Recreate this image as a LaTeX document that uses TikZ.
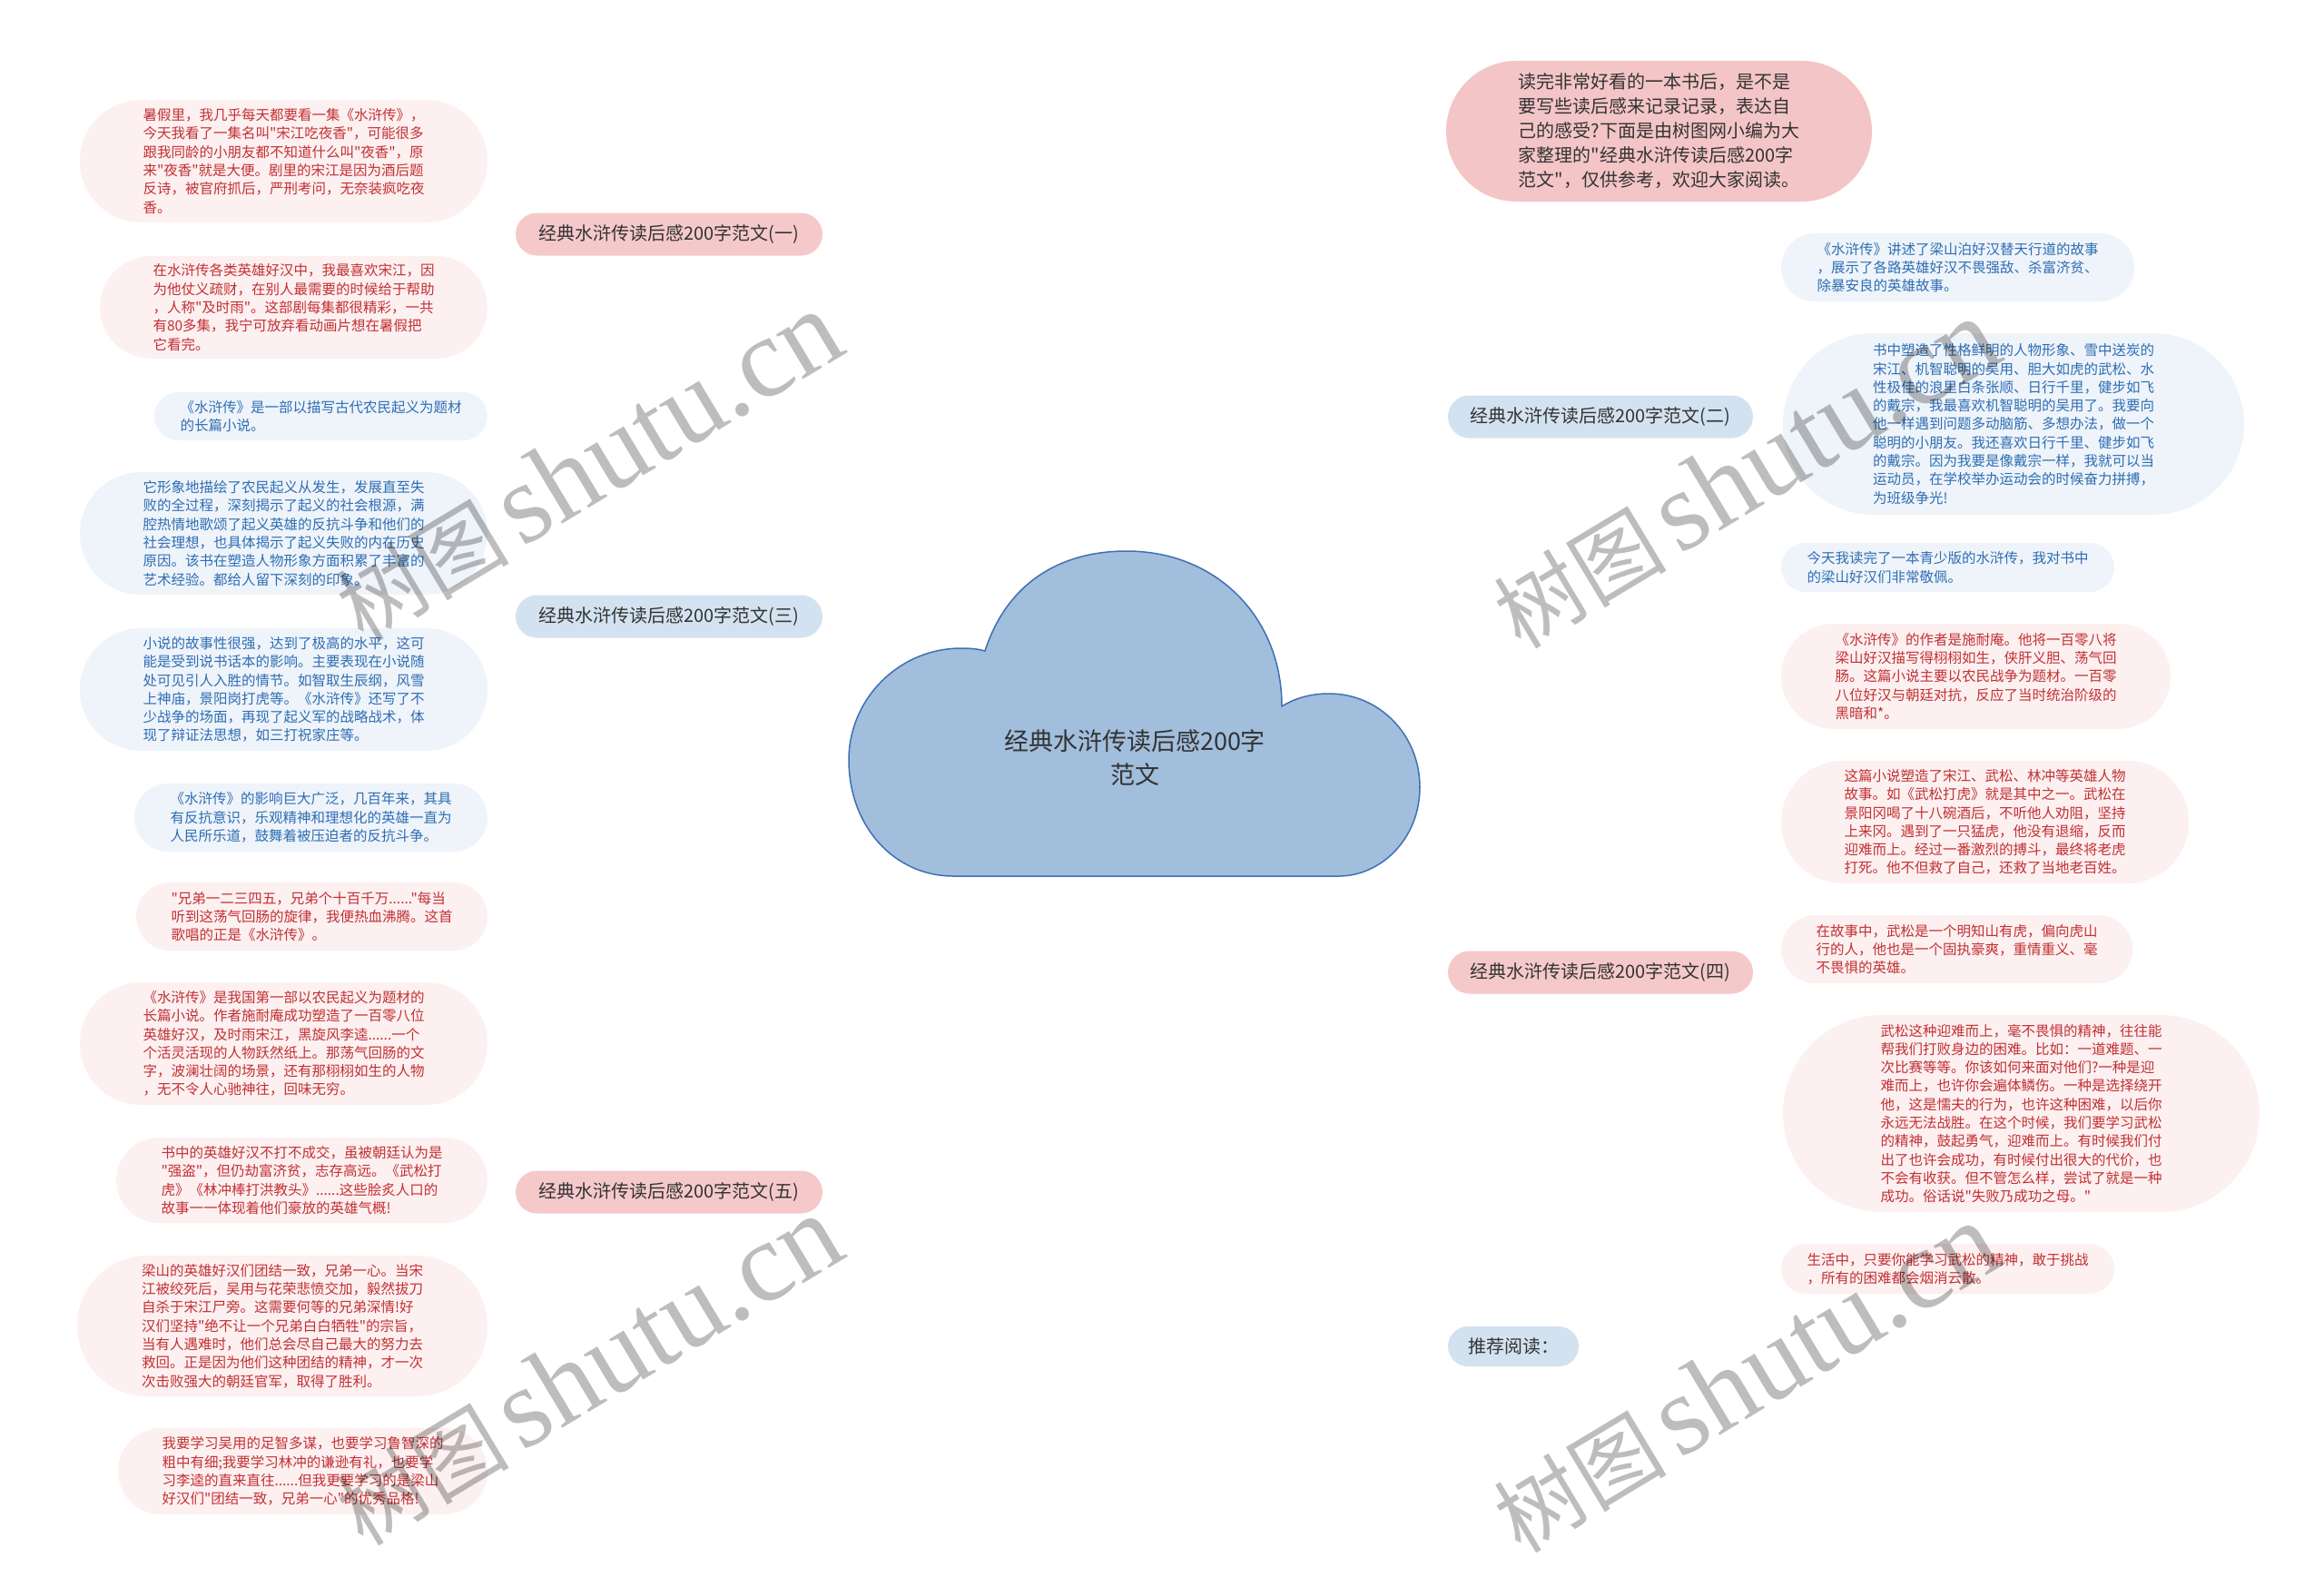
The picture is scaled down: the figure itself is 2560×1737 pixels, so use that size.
\documentclass[tikz,border=0pt]{standalone}
\usepackage{fontspec}
\newfontfamily\zh{Noto Sans CJK SC}
\newfontfamily\wmlat{Liberation Serif}
\usetikzlibrary{shapes.misc}
\definecolor{pinkfill}{HTML}{FDF0F0}
\definecolor{pinktext}{HTML}{C23034}
\definecolor{bluefill}{HTML}{EEF4FA}
\definecolor{bluetext}{HTML}{2F6DB3}
\definecolor{pinkbr}{HTML}{F5C9CA}
\definecolor{introfill}{HTML}{F4C5C6}
\definecolor{bluebr}{HTML}{D3E2F0}
\definecolor{pinkline}{HTML}{EBB9BB}
\definecolor{blueline}{HTML}{BDD1E6}
\definecolor{cloudfill}{HTML}{A1BEDC}
\definecolor{cloudline}{HTML}{3F6FB5}
\definecolor{darktext}{HTML}{333333}
\pgfdeclarelayer{bg}
\pgfsetlayers{bg,main}
\begin{document}
\begin{tikzpicture}[x=1pt,y=-1pt,
  leaf/.style={rounded rectangle, align=left, inner sep=0pt, font=\zh\fontsize{15.5}{20.3}\selectfont},
  leafp/.style={leaf, fill=pinkfill, text=pinktext},
  leafb/.style={leaf, fill=bluefill, text=bluetext},
  br/.style={rounded rectangle, inner sep=0pt, text=darktext, font=\zh\fontsize{20}{24}\selectfont, minimum height=47pt},
  brp/.style={br, fill=pinkbr},
  brb/.style={br, fill=bluebr},
  pl/.style={draw=pinkline, line width=1.8pt},
  bl/.style={draw=blueline, line width=1.8pt},
  wm/.style={text=black, opacity=0.26, rotate=31, inner sep=0pt},
]
\useasboundingbox (0,0) rectangle (2560,1737);
\fill[white] (0,0) rectangle (2560,1737);

% central cloud
\draw[fill=cloudfill, draw=cloudline, line width=1.5pt]
  (1085,717) .. controls (1110,640) and (1170,607) .. (1241,607)
  .. controls (1340,607) and (1412,680) .. (1412,778)
  .. controls (1428,768) and (1446,764) .. (1464,764)
  .. controls (1520,764) and (1564,810) .. (1564,867)
  .. controls (1564,925) and (1520,965) .. (1475,965)
  -- (1050,965)
  .. controls (985,965) and (935,910) .. (935,837)
  .. controls (935,770) and (990,714) .. (1059,714)
  .. controls (1070,714) and (1078,715) .. (1085,717) -- cycle;
\node[align=center, text=darktext, font=\zh\fontsize{27}{37}\selectfont] (center) at (1250,835) {经典水浒传读后感200字\\范文};
\coordinate (cl) at (933,787);
\coordinate (cr) at (1566,787);

% branches
\node[brp, minimum width=338pt] (b1) at (737,258) {经典水浒传读后感200字范文(一)};
\node[brb, minimum width=338pt] (b3) at (737,679) {经典水浒传读后感200字范文(三)};
\node[brp, minimum width=338pt] (b5) at (737,1313) {经典水浒传读后感200字范文(五)};
\node[rounded rectangle, fill=introfill, text=darktext, align=left, inner sep=0pt,
  font=\zh\fontsize{20}{27}\selectfont, minimum width=469pt, minimum height=155pt] (intro) at (1827.5,144.5)
  {读完非常好看的一本书后，是不是\\要写些读后感来记录记录，表达自\\己的感受?下面是由树图网小编为大\\家整理的"经典水浒传读后感200字\\范文"，仅供参考，欢迎大家阅读。};
\node[brb, minimum width=336pt] (b2) at (1763,459) {经典水浒传读后感200字范文(二)};
\node[brp, minimum width=336pt] (b4) at (1763,1071) {经典水浒传读后感200字范文(四)};
\node[brb, minimum width=144pt, minimum height=44pt] (b6) at (1667,1483) {推荐阅读：};

% left leaves (一)
\node[leafp, minimum width=449pt, minimum height=135pt] (l1a) at (312.5,177.5)
 {暑假里，我几乎每天都要看一集《水浒传》，\\今天我看了一集名叫"宋江吃夜香"，可能很多\\跟我同龄的小朋友都不知道什么叫"夜香"，原\\来"夜香"就是大便。剧里的宋江是因为酒后题\\反诗，被官府抓后，严刑考问，无奈装疯吃夜\\香。};
\node[leafp, minimum width=427pt, minimum height=113pt] (l1b) at (323.5,338.5)
 {在水浒传各类英雄好汉中，我最喜欢宋江，因\\为他仗义疏财，在别人最需要的时候给于帮助\\，人称"及时雨"。这部剧每集都很精彩，一共\\有80多集，我宁可放弃看动画片想在暑假把\\它看完。};

% left leaves (三)
\node[leafb, minimum width=367pt, minimum height=53pt] (l3a) at (353.5,458.5)
 {《水浒传》是一部以描写古代农民起义为题材\\的长篇小说。};
\node[leafb, minimum width=449pt, minimum height=135pt] (l3b) at (312.5,587.5)
 {它形象地描绘了农民起义从发生，发展直至失\\败的全过程，深刻揭示了起义的社会根源，满\\腔热情地歌颂了起义英雄的反抗斗争和他们的\\社会理想，也具体揭示了起义失败的内在历史\\原因。该书在塑造人物形象方面积累了丰富的\\艺术经验。都给人留下深刻的印象。};
\node[leafb, minimum width=449pt, minimum height=135pt] (l3c) at (312.5,759.5)
 {小说的故事性很强，达到了极高的水平，这可\\能是受到说书话本的影响。主要表现在小说随\\处可见引人入胜的情节。如智取生辰纲，风雪\\上神庙，景阳岗打虎等。《水浒传》还写了不\\少战争的场面，再现了起义军的战略战术，体\\现了辩证法思想，如三打祝家庄等。};
\node[leafb, minimum width=389pt, minimum height=75pt] (l3d) at (342.5,900.5)
 {《水浒传》的影响巨大广泛，几百年来，其具\\有反抗意识，乐观精神和理想化的英雄一直为\\人民所乐道，鼓舞着被压迫者的反抗斗争。};

% left leaves (五)
\node[leafp, minimum width=387pt, minimum height=75pt] (l5a) at (343.5,1009.5)
 {"兄弟一二三四五，兄弟个十百千万......"每当\\听到这荡气回肠的旋律，我便热血沸腾。这首\\歌唱的正是《水浒传》。};
\node[leafp, minimum width=449pt, minimum height=135pt] (l5b) at (312.5,1149.5)
 {《水浒传》是我国第一部以农民起义为题材的\\长篇小说。作者施耐庵成功塑造了一百零八位\\英雄好汉，及时雨宋江，黑旋风李逵......一个\\个活灵活现的人物跃然纸上。那荡气回肠的文\\字，波澜壮阔的场景，还有那栩栩如生的人物\\，无不令人心驰神往，回味无穷。};
\node[leafp, minimum width=409pt, minimum height=94pt] (l5c) at (332.5,1300)
 {书中的英雄好汉不打不成交，虽被朝廷认为是\\"强盗"，但仍劫富济贫，志存高远。《武松打\\虎》《林冲棒打洪教头》......这些脍炙人口的\\故事一一体现着他们豪放的英雄气概!};
\node[leafp, minimum width=452pt, minimum height=155pt] (l5d) at (311,1460.5)
 {梁山的英雄好汉们团结一致，兄弟一心。当宋\\江被绞死后，吴用与花荣悲愤交加，毅然拔刀\\自杀于宋江尸旁。这需要何等的兄弟深情!好\\汉们坚持"绝不让一个兄弟白白牺牲"的宗旨，\\当有人遇难时，他们总会尽自己最大的努力去\\救回。正是因为他们这种团结的精神，才一次\\次击败强大的朝廷官军，取得了胜利。};
\node[leafp, minimum width=407pt, minimum height=95pt] (l5e) at (333.5,1620.5)
 {我要学习吴用的足智多谋，也要学习鲁智深的\\粗中有细;我要学习林冲的谦逊有礼，也要学\\习李逵的直来直往......但我更要学习的是梁山\\好汉们"团结一致，兄弟一心"的优秀品格!};

% right leaves (二)
\node[leafb, minimum width=389pt, minimum height=75pt] (r2a) at (2156.5,294.5)
 {《水浒传》讲述了梁山泊好汉替天行道的故事\\，展示了各路英雄好汉不畏强敌、杀富济贫、\\除暴安良的英雄故事。};
\node[leafb, minimum width=508pt, minimum height=200pt] (r2b) at (2218,467)
 {书中塑造了性格鲜明的人物形象、雪中送炭的\\宋江、机智聪明的吴用、胆大如虎的武松、水\\性极佳的浪里白条张顺、日行千里，健步如飞\\的戴宗，我最喜欢机智聪明的吴用了。我要向\\他一样遇到问题多动脑筋、多想办法，做一个\\聪明的小朋友。我还喜欢日行千里、健步如飞\\的戴宗。因为我要是像戴宗一样，我就可以当\\运动员，在学校举办运动会的时候奋力拼搏，\\为班级争光!};
\node[leafb, minimum width=367pt, minimum height=54pt] (r2c) at (2145.5,625)
 {今天我读完了一本青少版的水浒传，我对书中\\的梁山好汉们非常敬佩。};

% right leaves (四)
\node[leafp, minimum width=429pt, minimum height=116pt] (r4a) at (2176.5,745)
 {《水浒传》的作者是施耐庵。他将一百零八将\\梁山好汉描写得栩栩如生，侠肝义胆、荡气回\\肠。这篇小说主要以农民战争为题材。一百零\\八位好汉与朝廷对抗，反应了当时统治阶级的\\黑暗和*。};
\node[leafp, minimum width=449pt, minimum height=135pt] (r4b) at (2186.5,905.5)
 {这篇小说塑造了宋江、武松、林冲等英雄人物\\故事。如《武松打虎》就是其中之一。武松在\\景阳冈喝了十八碗酒后，不听他人劝阻，坚持\\上来冈。遇到了一只猛虎，他没有退缩，反而\\迎难而上。经过一番激烈的搏斗，最终将老虎\\打死。他不但救了自己，还救了当地老百姓。};
\node[leafp, minimum width=387pt, minimum height=75pt] (r4c) at (2155.5,1045.5)
 {在故事中，武松是一个明知山有虎，偏向虎山\\行的人，他也是一个固执豪爽，重情重义、毫\\不畏惧的英雄。};
\node[leafp, minimum width=525pt, minimum height=217pt] (r4d) at (2226.5,1226.5)
 {武松这种迎难而上，毫不畏惧的精神，往往能\\帮我们打败身边的困难。比如：一道难题、一\\次比赛等等。你该如何来面对他们?一种是迎\\难而上，也许你会遍体鳞伤。一种是选择绕开\\他，这是懦夫的行为，也许这种困难，以后你\\永远无法战胜。在这个时候，我们要学习武松\\的精神，鼓起勇气，迎难而上。有时候我们付\\出了也许会成功，有时候付出很大的代价，也\\不会有收获。但不管怎么样，尝试了就是一种\\成功。俗话说"失败乃成功之母。"};
\node[leafp, minimum width=367pt, minimum height=55pt] (r4e) at (2145.5,1397.5)
 {生活中，只要你能学习武松的精神，敢于挑战\\，所有的困难都会烟消云散。};

% connectors
\begin{pgfonlayer}{bg}
\draw[pl] (cl) .. controls +(0,-280) and +(25,0) .. (b1.east);
\draw[bl] (cl) .. controls +(0,-60) and +(25,0) .. (b3.east);
\draw[pl] (cl) .. controls +(0,280) and +(25,0) .. (b5.east);
\draw[pl] (cr) .. controls +(0,-340) and +(-25,0) .. (intro.west);
\draw[bl] (cr) .. controls +(0,-180) and +(-25,0) .. (b2.west);
\draw[pl] (cr) .. controls +(0,160) and +(-25,0) .. (b4.west);
\draw[bl] (cr) .. controls +(0,380) and +(-25,0) .. (b6.west);
\foreach \l in {l1a,l1b} \draw[pl, line width=1.5pt] (b1.west) .. controls +(-20,0) and +(20,0) .. (\l.east);
\foreach \l in {l3a,l3b,l3c,l3d} \draw[bl, line width=1.5pt] (b3.west) .. controls +(-20,0) and +(20,0) .. (\l.east);
\foreach \l in {l5a,l5b,l5c,l5d,l5e} \draw[pl, line width=1.5pt] (b5.west) .. controls +(-20,0) and +(20,0) .. (\l.east);
\foreach \l in {r2a,r2b,r2c} \draw[bl, line width=1.5pt] (b2.east) .. controls +(20,0) and +(-20,0) .. (\l.west);
\foreach \l in {r4a,r4b,r4c,r4d,r4e} \draw[pl, line width=1.5pt] (b4.east) .. controls +(20,0) and +(-20,0) .. (\l.west);
\end{pgfonlayer}

% watermarks
\foreach \p [count=\i] in {(648,514),(1923,522),(648,1510),(1923,1518)}
  \node[wm] (wm\i) at \p {{\zh\fontsize{95}{95}\selectfont 树图}\hspace{14pt}{\wmlat\fontsize{125}{125}\selectfont shutu.cn}};
\end{tikzpicture}
\end{document}
